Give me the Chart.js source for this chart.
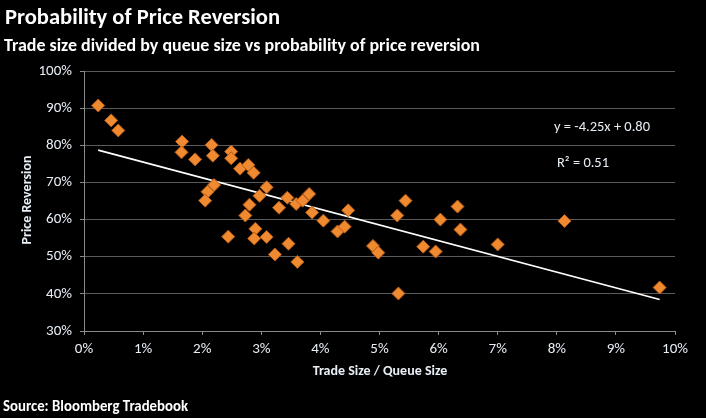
<!DOCTYPE html>
<html lang="en">
<head>
  <meta charset="UTF-8" />
  <title>Probability of Price Reversion</title>
  <script src="https://cdn.jsdelivr.net/npm/chart.js"></script>
  <style>
    html, body { margin: 0; padding: 0; background: #000; }
    #wrap { width: 706px; height: 418px; }
  </style>
</head>
<body>
<div id="wrap">
  <canvas id="scatter" width="706" height="418"></canvas>
</div>
<script>
  // trade size / queue size (%) and price reversion (%)
  const tradeRatio = [
    0.24, 0.46, 0.58, 1.66, 1.65, 1.88, 2.16, 2.18, 2.49, 2.49,
    2.64, 2.78, 2.87, 2.20, 2.09, 2.05, 3.09, 2.97, 2.80, 2.73,
    3.30, 3.44, 3.59, 3.70, 3.81, 3.86, 2.44, 2.90, 2.88, 3.09,
    3.23, 3.46, 3.61, 4.05, 4.47, 4.29, 4.41, 4.89, 4.98, 5.30,
    5.44, 5.32, 5.74, 5.95, 6.03, 6.32, 6.37, 7.00, 8.13, 9.74
  ];
  const reversion = [
    90.7, 86.7, 84.0, 81.0, 78.1, 76.2, 80.1, 77.2, 78.3, 76.5,
    73.7, 74.7, 72.6, 69.3, 67.5, 65.1, 68.7, 66.4, 64.0, 61.1,
    63.2, 65.9, 64.2, 65.1, 66.9, 61.9, 55.4, 57.5, 54.9, 55.3,
    50.6, 53.5, 48.6, 59.7, 62.5, 56.8, 58.1, 52.9, 51.1, 61.1,
    65.1, 40.1, 52.7, 51.4, 60.0, 63.5, 57.3, 53.3, 59.6, 41.7
  ];
  // linear trend line end points
  const trendX = [0.24, 9.74];
  const trendY = [78.7, 38.5];

  const equationText = 'y = -4.25x + 0.80';
  const rSquaredText = 'R² = 0.51';

  const FONT = "Carlito, 'Liberation Sans', Arial, sans-serif";
  const gridGrey = '#5a5a5a';
  const axisGrey = '#8a8a8a';
  const labelCol = '#e8eef6';

  const points = tradeRatio.map((x, i) => ({ x, y: reversion[i] }));
  const trend = trendX.map((x, i) => ({ x, y: trendY[i] }));

  // texts around the plot
  const textPlugin = {
    id: 'texts',
    afterDraw(chart) {
      const c = chart.ctx;
      c.save();
      c.fillStyle = '#fff';
      c.textBaseline = 'middle';
      c.textAlign = 'left';
      c.font = 'bold 23px ' + FONT;
      c.fillText('Probability of Price Reversion', 5, 18, 275);
      c.font = 'bold 18px ' + FONT;
      c.fillText('Trade size divided by queue size vs probability of price reversion', 4, 46, 476);
      c.font = 'bold 15px ' + FONT;
      c.fillText('Source: Bloomberg Tradebook', 3, 407, 185);

      c.fillStyle = labelCol;
      c.textAlign = 'center';
      c.font = 'bold 14px ' + FONT;
      c.fillText('Trade Size / Queue Size', 380, 371, 145);
      c.save();
      c.translate(27, 200);
      c.rotate(-Math.PI / 2);
      c.fillText('Price Reversion', 0, 0, 95);
      c.restore();

      c.textAlign = 'left';
      c.font = '15px ' + FONT;
      c.fillText(equationText, 554, 127, 96);
      c.fillText(rSquaredText, 557, 163, 52);
      c.restore();
    }
  };

  new Chart(document.getElementById('scatter'), {
    type: 'scatter',
    data: {
      datasets: [
        {
          label: 'Reversion',
          data: points,
          pointStyle: 'rectRot',
          pointRadius: 6.5,
          pointHoverRadius: 6.5,
          backgroundColor: '#f08a30',
          borderColor: '#b35a16',
          borderWidth: 1
        },
        {
          label: 'Trend',
          type: 'line',
          data: trend,
          borderColor: '#ffffff',
          borderWidth: 1.6,
          pointRadius: 0,
          fill: false
        }
      ]
    },
    options: {
      responsive: false,
      animation: false,
      layout: { padding: { left: 0, right: 31, top: 71, bottom: 0 } },
      plugins: {
        legend: { display: false },
        tooltip: { enabled: false }
      },
      scales: {
        x: {
          type: 'linear',
          min: 0,
          max: 10,
          afterFit(scale) { scale.height = 87; },
          ticks: {
            stepSize: 1,
            padding: 5,
            color: labelCol,
            font: { family: FONT, size: 15 },
            callback: v => v + '%'
          },
          grid: { drawOnChartArea: false, tickLength: 4, tickColor: axisGrey },
          border: { color: axisGrey, width: 1 }
        },
        y: {
          min: 30,
          max: 100,
          afterFit(scale) { scale.width = 84; },
          ticks: {
            stepSize: 10,
            padding: 8,
            color: labelCol,
            font: { family: FONT, size: 15 },
            callback: v => v + '%'
          },
          grid: { color: gridGrey, tickLength: 4, tickColor: axisGrey },
          border: { color: axisGrey, width: 1 }
        }
      }
    },
    plugins: [textPlugin]
  });
</script>
</body>
</html>
